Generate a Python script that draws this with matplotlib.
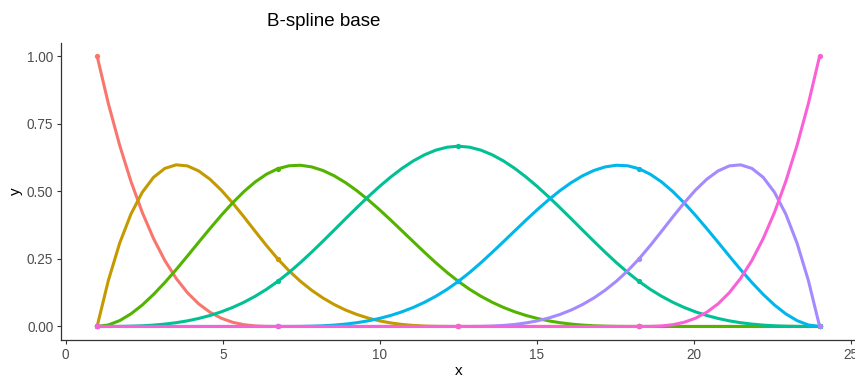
import matplotlib
matplotlib.use("Agg")
import matplotlib.pyplot as plt

# сетка x: 65 точек от 1 до 24 (узлы 1, 6.75, 12.5, 18.25, 24 -- каждая 16-я точка)
x = [1.000, 1.359, 1.719, 2.078, 2.438, 2.797, 3.156, 3.516, 3.875,
     4.234, 4.594, 4.953, 5.313, 5.672, 6.031, 6.391, 6.750,
     7.109, 7.469, 7.828, 8.188, 8.547, 8.906, 9.266, 9.625,
     9.984, 10.344, 10.703, 11.063, 11.422, 11.781, 12.141, 12.500,
     12.859, 13.219, 13.578, 13.938, 14.297, 14.656, 15.016, 15.375,
     15.734, 16.094, 16.453, 16.813, 17.172, 17.531, 17.891, 18.250,
     18.609, 18.969, 19.328, 19.688, 20.047, 20.406, 20.766, 21.125,
     21.484, 21.844, 22.203, 22.563, 22.922, 23.281, 23.641, 24.000]

b1 = [1, .8240, .6699, .5364, .4219, .3250, .2441, .1780, .125,
      .0837, .0527, .0305, .0156, .0066, .0020, .0002, 0,
      0, 0, 0, 0, 0, 0, 0, 0, 0, 0, 0, 0, 0, 0, 0, 0,
      0, 0, 0, 0, 0, 0, 0, 0, 0, 0, 0, 0, 0, 0, 0, 0,
      0, 0, 0, 0, 0, 0, 0, 0, 0, 0, 0, 0, 0, 0, 0, 0]
b2 = [0, .1703, .3081, .4158, .4961, .5515, .5845, .5977, .5938,
      .5751, .5444, .5042, .4570, .4055, .3521, .2994, .25,
      .2060, .1675, .1341, .1055, .0812, .0610, .0445, .0313,
      .0209, .0132, .0076, .0039, .0016, .0005, .0001, 0,
      0, 0, 0, 0, 0, 0, 0, 0, 0, 0, 0, 0, 0, 0, 0, 0,
      0, 0, 0, 0, 0, 0, 0, 0, 0, 0, 0, 0, 0, 0, 0, 0]
b3 = [0, .0056, .0217, .0467, .0794, .1185, .1626, .2103, .2604,
      .3115, .3621, .4111, .4570, .4986, .5344, .5630, .5833,
      .5942, .5962, .5901, .5768, .5572, .5321, .5023, .4688,
      .4323, .3937, .3539, .3138, .2742, .2358, .1997, .1667,
      .1373, .1117, .0894, .0703, .0542, .0407, .0297, .0208,
      .0140, .0088, .0051, .0026, .0011, .0003, .00004, 0,
      0, 0, 0, 0, 0, 0, 0, 0, 0, 0, 0, 0, 0, 0, 0, 0]
b4 = [0, .00004, .0003, .0011, .0026, .0051, .0088, .0140, .0208,
      .0297, .0407, .0542, .0703, .0894, .1117, .1373, .1667,
      .1997, .2360, .2747, .3151, .3565, .3981, .4392, .4792,
      .5171, .5524, .5843, .6120, .6348, .6520, .6629, .6667,
      .6629, .6520, .6348, .6120, .5843, .5524, .5171, .4792,
      .4392, .3981, .3565, .3151, .2747, .2360, .1997, .1667,
      .1373, .1117, .0894, .0703, .0542, .0407, .0297, .0208,
      .0140, .0088, .0051, .0026, .0011, .0003, .00004, 0]
b5 = [0, 0, 0, 0, 0, 0, 0, 0, 0, 0, 0, 0, 0, 0, 0, 0,
      0, .00004, .0003, .0011, .0026, .0051, .0088, .0140,
      .0208, .0297, .0407, .0542, .0703, .0894, .1117, .1373,
      .1667, .1997, .2358, .2742, .3138, .3539, .3937, .4323,
      .4688, .5023, .5321, .5572, .5768, .5901, .5962, .5942,
      .5833, .5630, .5344, .4986, .4570, .4111, .3621, .3115,
      .2604, .2103, .1626, .1185, .0794, .0467, .0217, .0056, 0]
b6 = [0, 0, 0, 0, 0, 0, 0, 0, 0, 0, 0, 0, 0, 0, 0, 0,
      0, 0, 0, 0, 0, 0, 0, 0, 0, 0, 0, 0, 0, 0, 0, 0,
      0, .0001, .0005, .0016, .0039, .0076, .0132, .0209,
      .0313, .0445, .0610, .0812, .1055, .1341, .1675, .2060,
      .25, .2994, .3521, .4055, .4570, .5042, .5444, .5751,
      .5938, .5977, .5845, .5515, .4961, .4158, .3081, .1703, 0]
b7 = [0, 0, 0, 0, 0, 0, 0, 0, 0, 0, 0, 0, 0, 0, 0, 0,
      0, 0, 0, 0, 0, 0, 0, 0, 0, 0, 0, 0, 0, 0, 0, 0,
      0, 0, 0, 0, 0, 0, 0, 0, 0, 0, 0, 0, 0, 0, 0, 0,
      0, .0002, .0020, .0066, .0156, .0305, .0527, .0837,
      .125, .1780, .2441, .3250, .4219, .5364, .6699, .8240, 1]

series = [b1, b2, b3, b4, b5, b6, b7]
colors = ["#F8766D", "#C49A00", "#53B400", "#00C094", "#00B6EB", "#A58AFF", "#FB61D7"]

x_ticks = [0, 5, 10, 15, 20, 25]
y_ticks = [0.0, 0.25, 0.5, 0.75, 1.0]
y_labels = ["0.00", "0.25", "0.50", "0.75", "1.00"]

plt.rcParams['font.family'] = ['Liberation Sans', 'DejaVu Sans']

fig = plt.figure(figsize=(8.55, 3.81), dpi=100)
ax = fig.add_axes([0.0713, 0.1076, 0.9296, 0.7808])

for ys, c in zip(series, colors):
    ax.plot(x, ys, color=c, lw=2.2, solid_capstyle='round',
            marker='o', markevery=16, markersize=3.8, markeredgewidth=0)

ax.set_xlim(-0.15, 25.15)
ax.set_ylim(-0.05, 1.05)
ax.set_xticks(x_ticks)
ax.set_yticks(y_ticks)
ax.set_yticklabels(y_labels)

for side in ['top', 'right']:
    ax.spines[side].set_visible(False)
for side in ['left', 'bottom']:
    ax.spines[side].set_color('#333333')
    ax.spines[side].set_linewidth(0.9)

ax.tick_params(axis='both', colors='#333333', labelcolor='#4D4D4D',
               labelsize=9.8, length=3, width=0.8, pad=2.5)

ax.set_xlabel('x', fontsize=11, labelpad=2)
ax.set_ylabel('y', fontsize=11, labelpad=3)

fig.text(0.378, 0.943, 'B-spline base', fontsize=13.5, ha='center', va='center')

fig.savefig('out.png', dpi=100)
